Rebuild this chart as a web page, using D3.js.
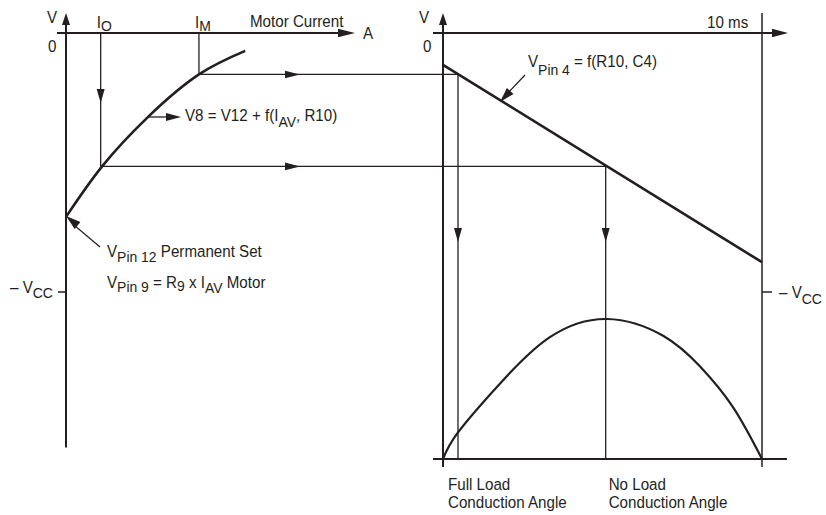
<!DOCTYPE html>
<html>
<head>
<meta charset="utf-8">
<script src="https://cdn.jsdelivr.net/npm/d3@7"></script>
<style>
  html, body { margin: 0; padding: 0; background: #fff; }
  text { font-family: "Liberation Sans", Arial, sans-serif; fill: #231f20; }
</style>
</head>
<body>
<script>
// ---------- data ----------
// Left chart: motor current (arbitrary units) vs voltage (units of Vcc, negative down)
const currentMarkNames = ["O", "M"];          // I_O, I_M
const currentMarks = [1.2, 4.6];               // current positions of I_O and I_M
const motorCurveI = [0, 1.25, 2.85, 4.6, 6.2];
const motorCurveV = [-0.71, -0.515, -0.323, -0.16, -0.069];
const vccLevel = [-1];                          // – VCC tick
// Right chart: time (ms) vs ramp voltage
const rampT = [0, 10];
const rampV = [-0.123, -0.885];
const conductionT = [0.47, 5.1];                // full load / no load crossing times
const conductionV = [-0.16, -0.515];            // corresponding voltages
const conductionLabels = [["Full Load", "Conduction Angle"], ["No Load", "Conduction Angle"]];
// Mains half wave (normalised amplitude)
const halfWaveT = [0, 0.47, 1.79, 3.35, 5.14, 6.9, 8.06, 9.09, 10];
const halfWaveA = [0, 0.19, 0.54, 0.87, 1.0, 0.88, 0.66, 0.37, 0];

// ---------- scales ----------
const W = 826, H = 515;
const FS = 16.3, SUB = 15, CONDENSE = 0.93;
const xL = d3.scaleLinear().domain([0, 10]).range([66, 355]);
const yV = d3.scaleLinear().domain([0, -1]).range([33, 292]);
const xR = d3.scaleLinear().domain([0, 10]).range([443, 762]);
const yM = d3.scaleLinear().domain([0, 1]).range([459, 319]);

const svg = d3.select("body").append("svg").attr("width", W).attr("height", H);
const ink = "#231f20";

function line(x1, y1, x2, y2, w) {
  svg.append("line").attr("x1", x1).attr("y1", y1).attr("x2", x2).attr("y2", y2)
    .attr("stroke", ink).attr("stroke-width", w);
}
function arrowHead(tx, ty, ang, len, hw) {
  const c = Math.cos(ang), s = Math.sin(ang);
  const bx = tx - c * len, by = ty - s * len;
  const p = [[tx, ty], [bx - s * hw, by + c * hw], [bx + s * hw, by - c * hw]];
  svg.append("path").attr("d", "M" + p.map(d => d.join(",")).join("L") + "Z").attr("fill", ink);
}
function rich(x, y, parts, size) {
  size = size || FS;
  const t = svg.append("text").attr("x", 0).attr("y", 0)
    .attr("transform", `translate(${x},${y}) scale(${CONDENSE},1)`)
    .attr("font-size", size);
  let shift = 0;
  parts.forEach(p => {
    const target = p.sub ? (p.sub === true ? 5 : p.sub) : 0;
    t.append("tspan").attr("dy", target - shift).attr("font-size", p.sub ? SUB : size).text(p.t);
    shift = target;
  });
  return t;
}

// ---------- left chart ----------
line(xL(0), yV(-1.6), xL(0), 20, 2);
arrowHead(xL(0), 13, -Math.PI / 2, 12, 4);
line(57, yV(0), 345, yV(0), 2);
arrowHead(355, yV(0), 0, 17, 4.2);
rich(47, 23, [{t: "V"}]);
rich(48, 52, [{t: "0"}]);
rich(250, 27, [{t: "Motor Current"}]);
rich(363, 39, [{t: "A"}]);

const lineL = d3.line().x((d, i) => xL(motorCurveI[i])).y(d => yV(d)).curve(d3.curveNatural);
svg.append("path").attr("d", lineL(motorCurveV)).attr("fill", "none")
  .attr("stroke", ink).attr("stroke-width", 2.6);

currentMarks.forEach((c, i) => {
  const x = xL(c);
  const v = conductionV[i === 0 ? 1 : 0];
  line(x, yV(0), x, yV(v), 1.3);
  rich(x - 4, 28, [{t: "I"}, {t: currentMarkNames[i], sub: 3}]);
  const tIdx = i === 0 ? 1 : 0;
  line(x, yV(v), xR(conductionT[tIdx]), yV(v), 1.3);
  arrowHead(300, yV(v), 0, 15, 3.8);
});
arrowHead(xL(currentMarks[0]), 103, Math.PI / 2, 14, 4);

// V8 annotation
line(148, 117, 168, 117, 1.3);
arrowHead(181, 117, 0, 15, 4);
rich(185, 121, [{t: "V8 = V12 + f(I"}, {t: "AV", sub: 6}, {t: ", R10)"}]);

// V pin 12 annotation
line(100, 247, 74, 225, 1.2);
arrowHead(xL(0), yV(motorCurveV[0]) - 1, Math.atan2(-28, -34), 15, 4.5);
rich(107, 257, [{t: "V"}, {t: "Pin 12", sub: 5}, {t: " Permanent Set"}]);
rich(107, 288, [{t: "V"}, {t: "Pin 9", sub: 4}, {t: " = R"}, {t: "9", sub: 3}, {t: " x I"}, {t: "AV", sub: 5}, {t: " Motor"}]);

vccLevel.forEach(v => {
  line(58, yV(v), xL(0), yV(v), 1.5);
  rich(10, yV(v) + 1, [{t: "– V"}, {t: "CC", sub: 5}]);
  line(xR(10), yV(v), xR(10) + 10, yV(v), 1.5);
  rich(779, yV(v) + 6, [{t: "– V"}, {t: "CC", sub: 6}]);
});

// ---------- right chart ----------
line(xR(0), 467, xR(0), 20, 2);
arrowHead(xR(0), 13, -Math.PI / 2, 12, 4);
line(433, yV(0), 775, yV(0), 2);
arrowHead(788, yV(0), 0, 16, 4.2);
line(xR(10), 13, xR(10), 467, 1.5);
line(433, yM(0), 787, yM(0), 1.8);
rich(419, 23, [{t: "V"}]);
rich(423, 52, [{t: "0"}]);
rich(707, 28, [{t: "10 ms"}]);

const rampLine = d3.line().x((d, i) => xR(rampT[i])).y(d => yV(d));
svg.append("path").attr("d", rampLine(rampV)).attr("fill", "none")
  .attr("stroke", ink).attr("stroke-width", 2.6);
line(525, 75, 507, 94, 1.2);
arrowHead(500, 102, Math.atan2(27, -25), 15, 4.5);
rich(528, 67, [{t: "V"}, {t: "Pin 4", sub: 8}, {t: " = f(R10, C4)"}]);

conductionT.forEach((t, i) => {
  const x = xR(t);
  line(x, yV(conductionV[i]), x, yM(0), 1.3);
  arrowHead(x, 242, Math.PI / 2, 14, 4);
  rich(x - 10 + (i === 0 ? 0 : 13), 490, [{t: conductionLabels[i][0]}]);
  rich(x - 10 + (i === 0 ? 0 : 13), 508, [{t: conductionLabels[i][1]}]);
});

const waveLine = d3.line().x((d, i) => xR(halfWaveT[i])).y(d => yM(d)).curve(d3.curveNatural);
svg.append("path").attr("d", waveLine(halfWaveA)).attr("fill", "none")
  .attr("stroke", ink).attr("stroke-width", 2.2);
</script>
</body>
</html>
